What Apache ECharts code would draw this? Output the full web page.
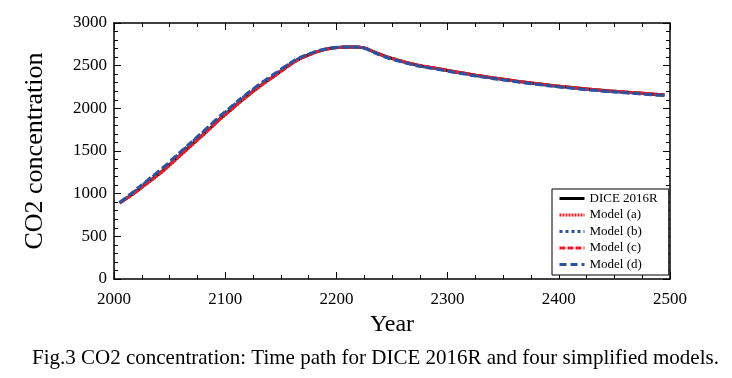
<!DOCTYPE html>
<html><head><meta charset="utf-8">
<script src="https://cdn.jsdelivr.net/npm/echarts@6/dist/echarts.min.js"></script>
<style>html,body{margin:0;padding:0;background:#fff}#c{width:732px;height:378px}</style>
</head><body><div id="c"></div>
<script>
var years = [2005,2015,2025,2035,2045,2055,2065,2075,2085,2095,2105,2115,2125,2135,2145,2155,2165,2175,2185,2195,2205,2215,2225,2235,2245,2255,2265,2275,2285,2295,2305,2315,2325,2335,2345,2355,2365,2375,2385,2395,2405,2415,2425,2435,2445,2455,2465,2475,2485,2495];
var dice = [892,978,1078,1178,1282,1400,1518,1635,1752,1875,1985,2097,2200,2298,2388,2483,2568,2627,2673,2703,2717,2720,2708,2655,2604,2565,2530,2500,2478,2456,2432,2410,2388,2368,2349,2331,2313,2297,2281,2266,2252,2239,2226,2215,2204,2194,2185,2176,2166,2156];
var modelA = [890,975,1072,1170,1273,1390,1508,1625,1743,1866,1977,2090,2193,2292,2383,2479,2565,2625,2672,2702,2717,2720,2707,2656,2606,2567,2532,2502,2480,2458,2434,2412,2390,2370,2351,2333,2315,2299,2283,2268,2254,2241,2228,2217,2206,2196,2187,2178,2168,2158];
var modelB = [895,995,1100,1205,1312,1430,1548,1665,1782,1902,2012,2122,2224,2320,2408,2500,2580,2636,2679,2707,2719,2720,2705,2648,2597,2558,2523,2493,2471,2449,2425,2403,2381,2361,2342,2324,2306,2290,2274,2259,2245,2232,2219,2208,2197,2187,2178,2169,2159,2149];
var modelC = [892,977,1075,1174,1278,1395,1513,1630,1748,1870,1981,2094,2197,2295,2386,2481,2567,2626,2673,2703,2717,2720,2708,2655,2605,2566,2531,2501,2479,2457,2433,2411,2389,2369,2350,2332,2314,2298,2282,2267,2253,2240,2227,2216,2205,2195,2186,2177,2167,2157];
var modelD = [896,997,1103,1208,1316,1434,1552,1669,1786,1906,2015,2125,2227,2322,2410,2502,2582,2637,2680,2708,2719,2720,2704,2647,2596,2557,2522,2492,2470,2448,2424,2402,2380,2360,2341,2323,2305,2289,2273,2258,2244,2231,2218,2207,2196,2186,2177,2168,2158,2148];
var seriesNames = ['DICE 2016R','Model (a)','Model (b)','Model (c)','Model (d)'];
var caption = 'Fig.3 CO2 concentration: Time path for DICE 2016R and four simplified models.';

function pairs(v){ return years.map(function(y,i){ return [y, v[i]]; }); }
var FONT = '"Liberation Serif","Times New Roman",serif';
var RED = '#e3202b', BLUE = '#2f52a0';
function plain(v){ return String(v); }

function mkAxis(extra, minorSplit){
  var a = {
    axisLine:{show:true, onZero:false, lineStyle:{color:'#000', width:1.5}},
    axisTick:{show:true, inside:true, length:7, lineStyle:{color:'#000', width:1}},
    minorTick:{show:true, splitNumber:minorSplit, length:4, lineStyle:{color:'#000', width:1}},
    splitLine:{show:false}, minorSplitLine:{show:false}
  };
  for (var k in extra) a[k] = extra[k];
  return a;
}

var chart = echarts.init(document.getElementById('c'), null, {renderer:'canvas'});
chart.setOption({
  animation:false,
  backgroundColor:'#fff',
  grid:{left:114, right:62, top:23, bottom:99, containLabel:false},
  xAxis:[
    mkAxis({type:'value', min:2000, max:2500, interval:100, position:'bottom',
      axisLabel:{show:true, fontFamily:FONT, fontSize:17, color:'#000', margin:12, formatter:plain},
      name:'Year', nameLocation:'middle', nameGap:30,
      nameTextStyle:{fontFamily:FONT, fontSize:24, color:'#000'}}, 4),
    mkAxis({type:'value', min:2000, max:2500, interval:100, position:'top',
      axisLabel:{show:false}}, 4)
  ],
  yAxis:[
    mkAxis({type:'value', min:0, max:3000, interval:500, position:'left',
      axisLabel:{show:true, fontFamily:FONT, fontSize:17, color:'#000', margin:7, formatter:plain},
      name:'CO2 concentration', nameLocation:'middle', nameGap:66, nameRotate:90,
      nameTextStyle:{fontFamily:FONT, fontSize:26, color:'#000'}}, 5),
    mkAxis({type:'value', min:0, max:3000, interval:500, position:'right',
      axisLabel:{show:false}}, 5)
  ],
  legend:{
    show:true, orient:'vertical', left:552, top:189,
    data:seriesNames,
    itemWidth:25, itemHeight:12, itemGap:3.5,
    padding:[3,11,4,6],
    itemStyle:{opacity:0},
    lineStyle:{width:3},
    borderColor:'#000', borderWidth:1, backgroundColor:'#fff',
    textStyle:{fontFamily:FONT, fontSize:13, color:'#000'}
  },
  graphic:[{type:'text', left:32, top:348,
    style:{text:caption, font:'21px "Liberation Serif", serif', fill:'#000'}}],
  series:[
    {name:seriesNames[0], type:'line', data:pairs(dice), symbol:'none', smooth:0.3,
      lineStyle:{color:'#000', width:3}, itemStyle:{color:'#000'}, z:2},
    {name:seriesNames[1], type:'line', data:pairs(modelA), symbol:'none', smooth:0.3,
      lineStyle:{color:RED, width:3, type:[2,1]}, itemStyle:{color:RED}, z:3},
    {name:seriesNames[2], type:'line', data:pairs(modelB), symbol:'none', smooth:0.3,
      lineStyle:{color:BLUE, width:2.5, type:[3,3]}, itemStyle:{color:BLUE}, z:5},
    {name:seriesNames[3], type:'line', data:pairs(modelC), symbol:'none', smooth:0.3,
      lineStyle:{color:RED, width:3, type:[6,2]}, itemStyle:{color:RED}, z:4},
    {name:seriesNames[4], type:'line', data:pairs(modelD), symbol:'none', smooth:0.3,
      lineStyle:{color:BLUE, width:3, type:[7,4]}, itemStyle:{color:BLUE}, z:6}
  ]
});
</script></body></html>
